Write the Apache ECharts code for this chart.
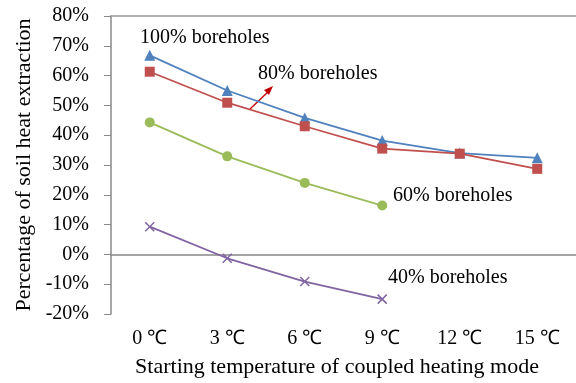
<!DOCTYPE html>
<html><head><meta charset="utf-8">
<script src="https://cdn.jsdelivr.net/npm/echarts@6/dist/echarts.min.js"></script>
<style>html,body{margin:0;padding:0;background:#fff}#c{width:576px;height:383px}</style>
</head><body><div id="c"></div>
<script>
const categories = ['0 ℃', '3 ℃', '6 ℃', '9 ℃', '12 ℃', '15 ℃'];
const holes100 = [66.8, 55.0, 45.8, 38.2, 34.0, 32.4];
const holes80 = [61.3, 50.9, 43.0, 35.5, 33.8, 28.7];
const holes60 = [44.3, 32.9, 24.0, 16.4];
const holes40 = [9.3, -1.3, -9.1, -15.0];
const seriesNames = ['100% boreholes', '80% boreholes', '60% boreholes', '40% boreholes'];

const font = '"Liberation Serif", "Times New Roman", serif';
const chart = echarts.init(document.getElementById('c'));
function mk(name, data, color, symbol, size, extra) {
  return Object.assign({
    name, type: 'line', data, symbol, symbolSize: size,
    lineStyle: { color, width: 1.8 },
    itemStyle: { color },
    animation: false
  }, extra || {});
}
chart.setOption({
  animation: false,
  grid: { left: 111, right: 0, top: 16, bottom: 68 },
  xAxis: [{
    type: 'category', data: categories, boundaryGap: true,
    axisLine: { lineStyle: { color: '#888', width: 1.5 } },
    axisTick: { inside: true, length: 6, lineStyle: { color: '#888' } },
    axisLabel: { color: '#000', fontFamily: font, fontSize: 20, margin: 15 },
    name: 'Starting temperature of coupled heating mode',
    nameLocation: 'middle', nameGap: 42,
    nameTextStyle: { color: '#000', fontFamily: font, fontSize: 22, padding: [0, 0, 0, -13] }
  }, {
    type: 'category', data: categories, position: 'top',
    axisLine: { show: true, lineStyle: { color: '#999', width: 1.5 } },
    axisTick: { show: false }, axisLabel: { show: false }
  }],
  yAxis: {
    type: 'value', min: -20, max: 80, interval: 10,
    splitLine: { show: false },
    axisLine: { show: true, lineStyle: { color: '#888', width: 1.5 } },
    axisTick: { show: true, length: 7, lineStyle: { color: '#888' } },
    axisLabel: { color: '#000', fontFamily: font, fontSize: 20, margin: 22, formatter: '{value}%' },
    name: 'Percentage of soil heat extraction',
    nameLocation: 'middle', nameGap: 72, nameRotate: 90,
    nameTextStyle: { color: '#000', fontFamily: font, fontSize: 22 }
  },
  series: [
    mk(seriesNames[0], holes100, '#4F81BD', 'triangle', 11),
    mk(seriesNames[1], holes80, '#C0504D', 'rect', 10),
    mk(seriesNames[2], holes60, '#9BBB59', 'circle', 10),
    mk(seriesNames[3], holes40, '#8064A2', 'path://M0,0L10,10M10,0L0,10', 9, {
      itemStyle: { color: '#8064A2', borderColor: '#8064A2', borderWidth: 1.5 }
    })
  ],
  graphic: [
    { type: 'text', left: 140, top: 28, style: { text: seriesNames[0], font: '20px ' + font, fill: '#000' } },
    { type: 'text', left: 258, top: 64, style: { text: seriesNames[1], font: '20px ' + font, fill: '#000' } },
    { type: 'text', left: 393, top: 186, style: { text: seriesNames[2], font: '20px ' + font, fill: '#000' } },
    { type: 'text', left: 388, top: 268, style: { text: seriesNames[3], font: '20px ' + font, fill: '#000' } },
    { type: 'line', shape: { x1: 250, y1: 109, x2: 270, y2: 90 }, style: { stroke: '#C00000', lineWidth: 1.3 } },
    { type: 'polygon', shape: { points: [[273, 86], [264, 90], [269, 95]] }, style: { fill: '#C00000' } }
  ]
});
</script></body></html>
